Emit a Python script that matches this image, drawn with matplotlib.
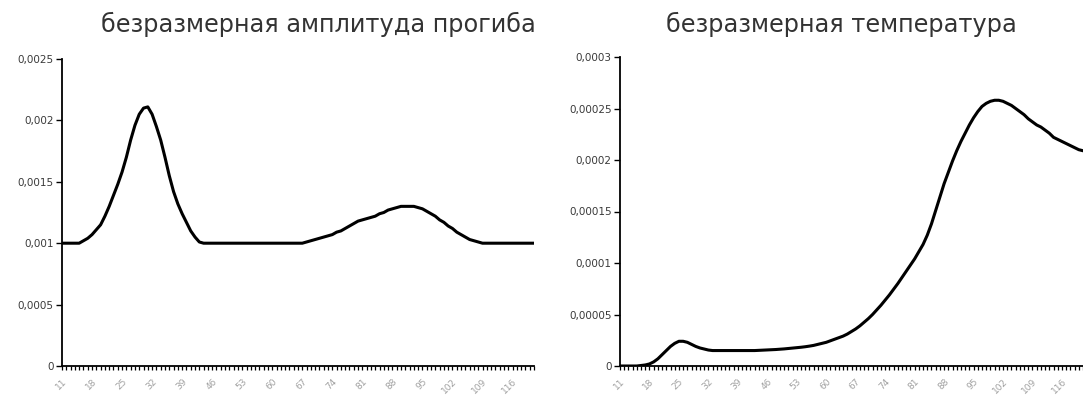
import matplotlib
matplotlib.use("Agg")
import matplotlib.pyplot as plt

# ---------------- data ----------------
categories = list(range(11, 122))

title_left = "безразмерная амплитуда прогиба"
title_right = "безразмерная температура"

deflection = [
    0.001, 0.001, 0.001, 0.001, 0.001,                      # 11-15
    0.00102, 0.00104, 0.00107, 0.00111, 0.00115,            # 16-20
    0.00122, 0.0013, 0.00139, 0.00148, 0.00158,             # 21-25
    0.0017, 0.00184, 0.00196, 0.00205, 0.0021,              # 26-30
    0.00211, 0.00205, 0.00195, 0.00184, 0.0017,             # 31-35
    0.00155, 0.00142, 0.00132, 0.00124, 0.00117,            # 36-40
    0.0011, 0.00105, 0.00101, 0.001, 0.001,                 # 41-45
    0.001, 0.001, 0.001, 0.001, 0.001,                      # 46-50
    0.001, 0.001, 0.001, 0.001, 0.001,                      # 51-55
    0.001, 0.001, 0.001, 0.001, 0.001,                      # 56-60
    0.001, 0.001, 0.001, 0.001, 0.001,                      # 61-65
    0.001, 0.001, 0.00101, 0.00102, 0.00103,                # 66-70
    0.00104, 0.00105, 0.00106, 0.00107, 0.00109,            # 71-75
    0.0011, 0.00112, 0.00114, 0.00116, 0.00118,             # 76-80
    0.00119, 0.0012, 0.00121, 0.00122, 0.00124,             # 81-85
    0.00125, 0.00127, 0.00128, 0.00129, 0.0013,             # 86-90
    0.0013, 0.0013, 0.0013, 0.00129, 0.00128,               # 91-95
    0.00126, 0.00124, 0.00122, 0.00119, 0.00117,            # 96-100
    0.00114, 0.00112, 0.00109, 0.00107, 0.00105,            # 101-105
    0.00103, 0.00102, 0.00101, 0.001, 0.001,                # 106-110
    0.001, 0.001, 0.001, 0.001, 0.001,                      # 111-115
    0.001, 0.001, 0.001, 0.001, 0.001, 0.001,               # 116-121
]

temperature = [
    0.0, 0.0, 0.0, 0.0, 0.0,                                 # 11-15
    0.5e-6, 1e-6, 2e-6, 4e-6, 7e-6,                          # 16-20
    11e-6, 15e-6, 19e-6, 22e-6, 24e-6,                       # 21-25
    24e-6, 23e-6, 21e-6, 19e-6, 17.5e-6,                     # 26-30
    16.5e-6, 15.5e-6, 15e-6, 15e-6, 15e-6,                   # 31-35
    15e-6, 15e-6, 15e-6, 15e-6, 15e-6,                       # 36-40
    15e-6, 15e-6, 15e-6, 15.2e-6, 15.4e-6,                   # 41-45
    15.6e-6, 15.8e-6, 16e-6, 16.3e-6, 16.6e-6,               # 46-50
    17e-6, 17.4e-6, 17.8e-6, 18.2e-6, 18.7e-6,               # 51-55
    19.3e-6, 20e-6, 21e-6, 22e-6, 23e-6,                     # 56-60
    24.5e-6, 26e-6, 27.5e-6, 29e-6, 31e-6,                   # 61-65
    33.5e-6, 36e-6, 39e-6, 42.5e-6, 46e-6,                   # 66-70
    50e-6, 54.5e-6, 59e-6, 64e-6, 69e-6,                     # 71-75
    74.5e-6, 80e-6, 86e-6, 92e-6, 98e-6,                     # 76-80
    104e-6, 111e-6, 118e-6, 127e-6, 138e-6,                  # 81-85
    151e-6, 164e-6, 177e-6, 188e-6, 199e-6,                  # 86-90
    209e-6, 218e-6, 226e-6, 234e-6, 241e-6,                  # 91-95
    247e-6, 252e-6, 255e-6, 257e-6, 258e-6,                  # 96-100
    258e-6, 257e-6, 255e-6, 253e-6, 250e-6,                  # 101-105
    247e-6, 244e-6, 240e-6, 237e-6, 234e-6,                  # 106-110
    232e-6, 229e-6, 226e-6, 222e-6, 220e-6,                  # 111-115
    218e-6, 216e-6, 214e-6, 212e-6, 210e-6, 209e-6,          # 116-121
]

xtick_labels = ["11", "18", "25", "32", "39", "46", "53", "60",
                "67", "74", "81", "88", "95", "102", "109", "116"]

ytick_values_left = [0, 0.0005, 0.001, 0.0015, 0.002, 0.0025]
ytick_labels_left = ["0", "0,0005", "0,001", "0,0015", "0,002", "0,0025"]
ytick_values_right = [0, 0.00005, 0.0001, 0.00015, 0.0002, 0.00025, 0.0003]
ytick_labels_right = ["0", "0,00005", "0,0001", "0,00015", "0,0002",
                      "0,00025", "0,0003"]

# ---------------- figure ----------------
W, H = 1083, 401
fig = plt.figure(figsize=(W / 100, H / 100), dpi=100)
fig.patch.set_facecolor("white")
plt.rcParams["font.family"] = ["DejaVu Sans"]


def px_axes(x0, x1, ytop, ybot):
    return fig.add_axes([x0 / W, (H - ybot) / H, (x1 - x0) / W, (ybot - ytop) / H])


def style(ax, series, yvals, ylabels, title, title_x):
    ax.plot(categories, series, color="black", lw=2.2, solid_joinstyle="round")
    ax.set_xlim(categories[0], categories[-1])
    ax.set_ylim(yvals[0], yvals[-1])
    ax.spines["top"].set_visible(False)
    ax.spines["right"].set_visible(False)
    for s in ("left", "bottom"):
        ax.spines[s].set_linewidth(1.3)
        ax.spines[s].set_color("black")
    ax.set_yticks(yvals)
    ax.set_yticklabels(ylabels, fontsize=7.5, color="#3a3a3a")
    ax.tick_params(axis="y", direction="out", length=4, width=1.0, pad=2)
    ax.set_xticks(categories, minor=True)
    major = [int(t) for t in xtick_labels]
    ax.set_xticks(major)
    ax.set_xticklabels(xtick_labels, fontsize=6.5, color="#a0a0a0",
                       rotation=45, ha="right", va="top", rotation_mode="anchor")
    ax.tick_params(axis="x", which="both", direction="out", length=3,
                   width=0.9, pad=5)
    ax.set_facecolor("white")
    fig.text(title_x / W, (H - 24) / H, title, fontsize=17.3, color="#333333",
             ha="center", va="center")


ax1 = px_axes(62, 534, 59, 366)
style(ax1, deflection, ytick_values_left, ytick_labels_left, title_left, 318)

ax2 = px_axes(620, 1083, 57, 366)
style(ax2, temperature, ytick_values_right, ytick_labels_right, title_right, 841)

fig.savefig("out.png", dpi=100, facecolor="white")
